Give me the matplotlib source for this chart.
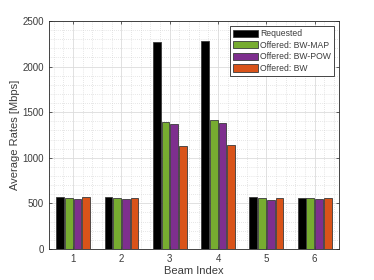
import matplotlib
matplotlib.use("Agg")
import matplotlib.pyplot as plt
import numpy as np
from matplotlib.ticker import MultipleLocator

beams = [1, 2, 3, 4, 5, 6]
requested = [570, 570, 2266, 2284, 565, 563]
bw_map = [563, 560, 1396, 1414, 557, 557]
bw_pow = [545, 545, 1370, 1378, 540, 545]
bw = [566, 562, 1133, 1137, 560, 560]
series_names = ["Requested", "Offered: BW-MAP", "Offered: BW-POW", "Offered: BW"]
colors = ["#000000", "#77AC30", "#7E2F8E", "#D95319"]

plt.rcParams['font.family'] = ['Liberation Sans', 'DejaVu Sans']
txt = "#3c3c3c"

fig = plt.figure(figsize=(3.74, 2.8), dpi=100)
ax = fig.add_axes([0.131, 0.111, 0.775, 0.814])

x = np.array(beams, dtype=float)
width = 0.16
step = 0.18
all_series = [requested, bw_map, bw_pow, bw]
for i, (vals, name, c) in enumerate(zip(all_series, series_names, colors)):
    ax.bar(x + (i - 1.5) * step, vals, width=width, color=c, edgecolor="#3a3a3a",
           linewidth=0.6, label=name, zorder=3)

ax.set_xlim(0.5, 6.5)
ax.set_ylim(0, 2500)
ax.set_xticks(beams)
ax.set_yticks([0, 500, 1000, 1500, 2000, 2500])
ax.xaxis.set_minor_locator(MultipleLocator(0.2))
ax.yaxis.set_minor_locator(MultipleLocator(100))
ax.grid(which="major", color="#dcdcdc", linewidth=0.6, zorder=0)
ax.grid(which="minor", color="#cfcfcf", linewidth=0.5, linestyle=(0, (1, 2)), zorder=0)
ax.set_axisbelow(True)

for s in ax.spines.values():
    s.set_color("#262626")
    s.set_linewidth(0.6)
ax.tick_params(which="both", direction="in", colors="#262626", labelcolor=txt,
               labelsize=7, top=True, right=True, length=2.5, width=0.5)
ax.tick_params(which="minor", length=0)
ax.tick_params(axis="x", pad=4)

ax.set_xlabel("Beam Index", fontsize=8, color=txt, labelpad=1)
ax.set_ylabel("Average Rates [Mbps]", fontsize=8, color=txt, labelpad=2)

leg = ax.legend(loc="upper right", fontsize=6.2, frameon=True, fancybox=False,
                edgecolor="#262626", framealpha=1, handlelength=3.0, handleheight=0.9,
                handletextpad=0.15, borderpad=0.35, labelspacing=0.3,
                borderaxespad=0.6)
leg.get_frame().set_linewidth(0.6)
for t in leg.get_texts():
    t.set_color(txt)

fig.savefig("out.png", dpi=100)
